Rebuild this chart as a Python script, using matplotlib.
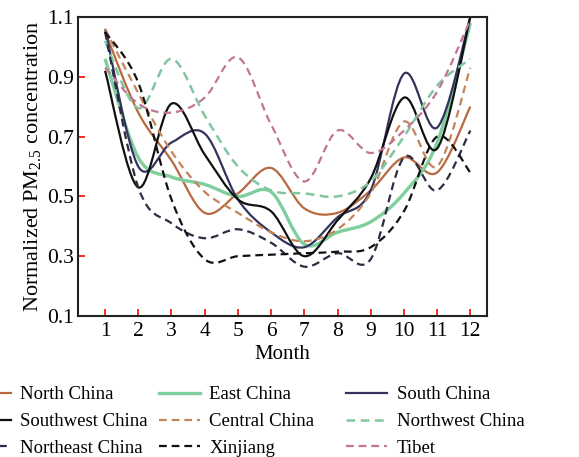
import numpy as np
import matplotlib as mpl
mpl.use('Agg')
import matplotlib.pyplot as plt
from matplotlib.path import Path
from matplotlib.patches import PathPatch
from matplotlib.lines import Line2D

plt.rcParams['font.family'] = ['Liberation Serif', 'DejaVu Serif']
plt.rcParams['mathtext.fontset'] = 'custom'
plt.rcParams['mathtext.rm'] = 'Liberation Serif'
plt.rcParams['mathtext.it'] = 'Liberation Serif:italic'

months = np.arange(1, 13)

north = [1.05, 0.78, 0.62, 0.445, 0.51, 0.595, 0.46, 0.445, 0.52, 0.63, 0.58, 0.80]
east = [0.96, 0.63, 0.565, 0.54, 0.50, 0.515, 0.34, 0.38, 0.415, 0.51, 0.68, 1.08]
south = [1.06, 0.60, 0.68, 0.71, 0.49, 0.38, 0.33, 0.43, 0.52, 0.91, 0.73, 1.10]
southwest = [0.92, 0.53, 0.81, 0.64, 0.49, 0.45, 0.30, 0.42, 0.56, 0.83, 0.66, 1.10]
central = [1.06, 0.845, 0.65, 0.515, 0.445, 0.38, 0.35, 0.39, 0.51, 0.75, 0.60, 0.93]
northwest = [1.02, 0.795, 0.96, 0.77, 0.60, 0.52, 0.51, 0.50, 0.55, 0.70, 0.87, 0.96]
northeast = [1.05, 0.53, 0.41, 0.36, 0.39, 0.345, 0.265, 0.31, 0.29, 0.63, 0.52, 0.72]
xinjiang = [1.05, 0.88, 0.49, 0.29, 0.30, 0.305, 0.31, 0.315, 0.33, 0.45, 0.70, 0.58]
tibet = [0.93, 0.81, 0.78, 0.83, 0.965, 0.74, 0.55, 0.72, 0.645, 0.72, 0.85, 1.09]

# name, values, colour, dashed, width
series = [
    ('North China', north, '#b8693f', False, 1.6),
    ('East China', east, '#7fcf9c', False, 2.4),
    ('South China', south, '#33335e', False, 1.6),
    ('Southwest China', southwest, '#111111', False, 1.6),
    ('Central China', central, '#c3855a', True, 1.6),
    ('Northwest China', northwest, '#80c7a0', True, 1.8),
    ('Northeast China', northeast, '#2c2c44', True, 1.6),
    ('Xinjiang', xinjiang, '#111111', True, 1.6),
    ('Tibet', tibet, '#c27693', True, 1.6),
]


def smooth_path(x, y):
    # Catmull-Rom through the monthly values, drawn as cubic bezier segments
    p = np.column_stack([x, y]).astype(float)
    ext = np.vstack([p[0], p, p[-1]])
    verts = [p[0]]
    codes = [Path.MOVETO]
    for i in range(len(p) - 1):
        p0, p1, p2, p3 = ext[i], ext[i + 1], ext[i + 2], ext[i + 3]
        verts += [p1 + (p2 - p0) / 6, p2 - (p3 - p1) / 6, p2]
        codes += [Path.CURVE4] * 3
    return Path(verts, codes)


fig = plt.figure(figsize=(5.79, 4.57), dpi=100)
ax = fig.add_axes([0.135, 0.3085, 0.706, 0.6545])

handles = []
for name, vals, col, dashed, lw in series:
    ls = (0, (3.5, 2.2)) if dashed else '-'
    patch = PathPatch(smooth_path(months, vals), fill=False, edgecolor=col,
                      lw=lw, linestyle=ls, capstyle='butt')
    ax.add_patch(patch)
    handles.append(Line2D([], [], color=col, lw=lw, linestyle=ls, label=name))

ax.set_xlim(0.19, 12.5)
ax.set_ylim(0.1, 1.1)
ax.set_xticks(months)
ax.set_yticks([0.1, 0.3, 0.5, 0.7, 0.9, 1.1])
ax.set_yticklabels(['0.1', '0.3', '0.5', '0.7', '0.9', '1.1'])
ax.tick_params(direction='in', color='red', length=5, width=1.2,
               labelsize=15.5, pad=4)
ax.tick_params(axis='y', pad=3)
for s in ax.spines.values():
    s.set_linewidth(1.5)
    s.set_color('#222222')

ax.set_xlabel('Month', fontsize=15, labelpad=3)
ax.set_ylabel('Normalized PM$_{2.5}$ concentration', fontsize=16, labelpad=3)

# legend: three columns below the plot
cols = [handles[0::3], handles[1::3], handles[2::3]]
xs = [-0.053, 0.274, 0.598]
for hs, x0 in zip(cols, xs):
    fig.legend(handles=hs, loc='upper left', bbox_to_anchor=(x0, 0.155),
               frameon=False, fontsize=13.5, handlelength=2.2,
               handletextpad=0.5, labelspacing=0.52, borderaxespad=0,
               borderpad=0)

fig.savefig('out.png', dpi=100)
